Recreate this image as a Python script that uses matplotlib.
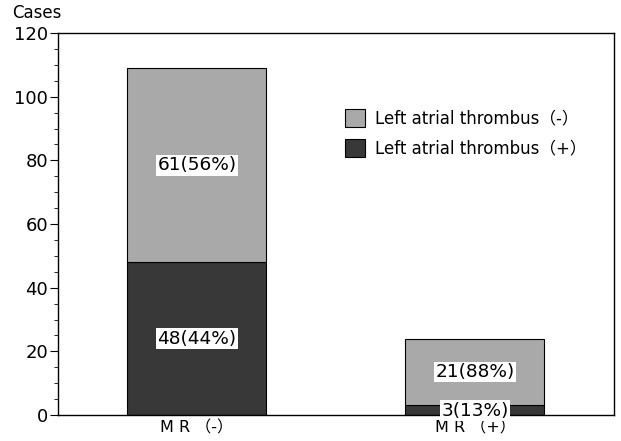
import numpy as np
import matplotlib.pyplot as plt
from matplotlib.ticker import MultipleLocator

plt.rcParams['font.family'] = ['DejaVu Sans', 'Noto Sans CJK JP']

# Data
groups = ["M R （-）", "M R （+）"]
thrombus_pos = [48, 3]
thrombus_neg = [61, 21]
pos_labels = ["48(44%)", "3(13%)"]
neg_labels = ["61(56%)", "21(88%)"]

light = "#a9a9a9"
dark = "#383838"

fig = plt.figure(figsize=(6.21, 4.41), dpi=100)
ax = fig.add_axes([0.0934, 0.059, 0.8953, 0.866])

x = np.arange(len(groups))
b1 = ax.bar(x, thrombus_pos, width=0.5, color=dark, edgecolor="black", linewidth=0.8,
            label="Left atrial thrombus（+）")
b2 = ax.bar(x, thrombus_neg, width=0.5, bottom=thrombus_pos, color=light, edgecolor="black",
            linewidth=0.8, label="Left atrial thrombus（-）")

box = dict(facecolor="white", edgecolor="none", pad=1.0)
ax.text(x[0], 48 / 2, pos_labels[0], ha="center", va="center", fontsize=13.3, bbox=box)
ax.text(x[0], 48 + 61 / 2, neg_labels[0], ha="center", va="center", fontsize=13.3, bbox=box)
ax.text(x[1], 3 + 21 / 2, neg_labels[1], ha="center", va="center", fontsize=13.3, bbox=box)
ax.text(x[1], 1.4, pos_labels[1], ha="center", va="center", fontsize=13.3, bbox=box)

ax.set_xlim(-0.5, 1.5)
ax.set_ylim(0, 120)
ax.set_xticks(x)
ax.set_xticklabels(groups, fontsize=11.5)
ax.tick_params(axis="x", length=0, pad=4)
ax.yaxis.set_major_locator(MultipleLocator(20))
ax.yaxis.set_minor_locator(MultipleLocator(5))
ax.tick_params(axis="y", which="major", length=6, labelsize=13, pad=1)
ax.tick_params(axis="y", which="minor", length=3)
for s in ax.spines.values():
    s.set_linewidth(1.0)

fig.text(0.02, 0.97, "Cases", fontsize=12, ha="left", va="center")

handles = [b2, b1]
ax.legend(handles, [h.get_label() for h in handles], loc="upper left",
          bbox_to_anchor=(0.49, 0.84), frameon=False, fontsize=12,
          handlelength=1.2, handleheight=1.3, handletextpad=0.6, labelspacing=0.65)

fig.savefig("out.png", dpi=100)
